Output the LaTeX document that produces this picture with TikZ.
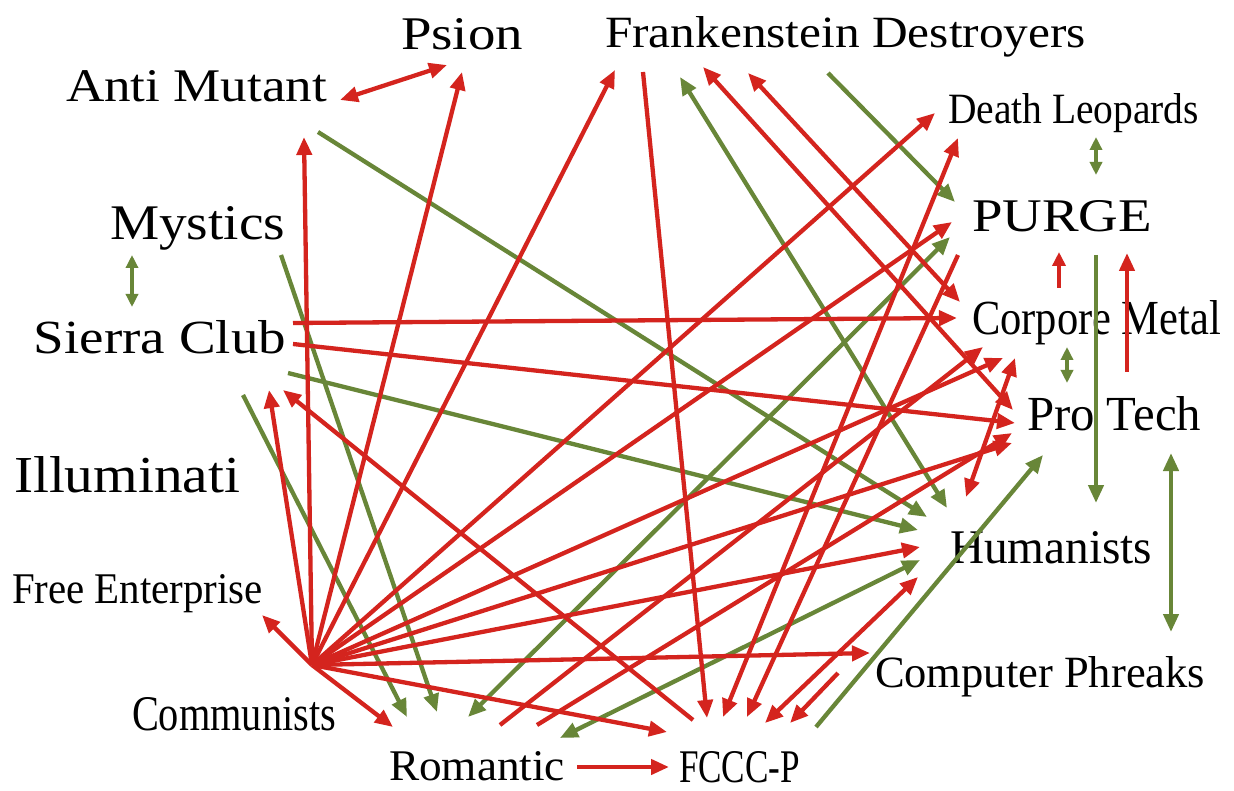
\documentclass[tikz,border=0pt]{standalone}
\usepackage{fontspec}
\setmainfont{Liberation Serif}
\usepackage{graphicx}
\usetikzlibrary{arrows.meta}
\definecolor{cred}{RGB}{212,36,30}
\definecolor{cgreen}{RGB}{104,134,56}
\begin{document}
\begin{tikzpicture}[x=1pt,y=-1pt,
  lbl/.style={anchor=base west,inner sep=0pt,outer sep=0pt},
  rline/.style={draw=cred,line width=4.3pt,-{Triangle[length=18pt,width=15pt]}},
  rdbl/.style={draw=cred,line width=4.3pt,{Triangle[length=18pt,width=15pt]}-{Triangle[length=18pt,width=15pt]}},
  gline/.style={draw=cgreen,line width=4.3pt,-{Triangle[length=18pt,width=15pt]}},
  gdbl/.style={draw=cgreen,line width=4.3pt,{Triangle[length=18pt,width=15pt]}-{Triangle[length=18pt,width=15pt]}},
  gsmall/.style={draw=cgreen,line width=4.3pt,{Triangle[length=13pt,width=12pt]}-{Triangle[length=13pt,width=12pt]}},
  rshort/.style={draw=cred,line width=4.3pt,-{Triangle[length=14pt,width=13pt]}}
]
\fill[white] (0,0) rectangle (1234,791);
\useasboundingbox (0,0) rectangle (1234,791);

% labels
\node[lbl] (psion) at (401,50)  {\resizebox{122pt}{31pt}{Psion}};
\node[lbl] (fd)    at (605,48)  {\resizebox{481pt}{31pt}{Frankenstein Destroyers}};
\node[lbl] (am)    at (66,102)  {\resizebox{261pt}{31pt}{Anti Mutant}};
\node[lbl] (dl)    at (948,124) {\resizebox{251pt}{30pt}{Death Leopards}};
\node[lbl] (mys)   at (110,240) {\resizebox{175pt}{33pt}{Mystics}};
\node[lbl] (purge) at (972,232) {\resizebox{180pt}{31pt}{PURGE}};
\node[lbl] (sc)    at (34,354)  {\resizebox{252pt}{33pt}{Sierra Club}};
\node[lbl] (cm)    at (972,335) {\resizebox{249pt}{34pt}{Corpore Metal}};
\node[lbl] (pt)    at (1027,430){\resizebox{174pt}{34pt}{Pro Tech}};
\node[lbl] (ill)   at (14,492)  {\resizebox{226pt}{36pt}{Illuminati}};
\node[lbl] (hum)   at (950,563) {\resizebox{202pt}{32pt}{Humanists}};
\node[lbl] (fe)    at (12,603)  {\resizebox{251pt}{29pt}{Free Enterprise}};
\node[lbl] (cp)    at (875,687) {\resizebox{330pt}{31pt}{Computer Phreaks}};
\node[lbl] (com)   at (132,730) {\resizebox{204pt}{33pt}{Communists}};
\node[lbl] (rom)   at (389,780) {\resizebox{176pt}{29pt}{Romantic}};
\node[lbl] (fccc)  at (679,782) {\resizebox{121pt}{31pt}{FCCC-P}};

% connector end points
\coordinate (hub) at (312,665);
\coordinate (fe-a) at (262,615);
\coordinate (am-a) at (304,137);
\coordinate (sc-a1) at (269,390);
\coordinate (sc-a2) at (283,390);
\coordinate (psion-a) at (462,72);
\coordinate (fd-a1) at (615,70);
\coordinate (dl-a1) at (935,113);
\coordinate (purge-a1) at (952,222);
\coordinate (cm-a1) at (1003,358);
\coordinate (pt-a1) at (1012,443);
\coordinate (hum-a1) at (920,547);
\coordinate (cp-a) at (870,653);
\coordinate (fccc-a1) at (667,732);
\coordinate (rom-a1) at (393,727);
\coordinate (fccc-s1) at (693,720);
\coordinate (fd-s1) at (643,72);
\coordinate (fccc-a2) at (707,718);
\coordinate (purge-s1) at (958,255);
\coordinate (fccc-a3) at (747,717);
\coordinate (cp-s) at (838,673);
\coordinate (fccc-a4) at (790,723);
\coordinate (rom-s1) at (577,767);
\coordinate (fccc-a5) at (669,767);
\coordinate (rom-s2) at (500,725);
\coordinate (cm-a2) at (983,347);
\coordinate (rom-s3) at (537,725);
\coordinate (pt-a2) at (1012,433);
\coordinate (sc-s1) at (293,323);
\coordinate (cm-a3) at (957,318);
\coordinate (sc-s2) at (293,344);
\coordinate (pt-a3) at (1015,423);
\coordinate (cm-s1) at (1059,288);
\coordinate (purge-a2) at (1059,252);
\coordinate (pt-s1) at (1127,372);
\coordinate (purge-a3) at (1127,253);
\coordinate (am-b) at (340,100);
\coordinate (psion-b) at (447,65);
\coordinate (fd-b1) at (703,67);
\coordinate (pt-b1) at (1013,410);
\coordinate (fd-b2) at (748,73);
\coordinate (cm-b1) at (960,302);
\coordinate (dl-b1) at (958,138);
\coordinate (fccc-b1) at (723,717);
\coordinate (fccc-b2) at (765,723);
\coordinate (hum-b1) at (918,577);
\coordinate (hum-b2) at (966,497);
\coordinate (cm-b2) at (1015,358);
\coordinate (mys-s) at (281,255);
\coordinate (rom-a2) at (437,712);
\coordinate (ill-s) at (243,395);
\coordinate (rom-a3) at (407,717);
\coordinate (am-s) at (318,132);
\coordinate (hum-a2) at (927,517);
\coordinate (sc-s3) at (288,373);
\coordinate (hum-a3) at (918,530);
\coordinate (fd-s2) at (828,73);
\coordinate (purge-a4) at (955,202);
\coordinate (purge-s2) at (1096,255);
\coordinate (hum-a4) at (1096,503);
\coordinate (fccc-s2) at (816,727);
\coordinate (pt-a4) at (1043,455);
\coordinate (rom-b1) at (468,717);
\coordinate (purge-b1) at (950,237);
\coordinate (rom-b2) at (560,738);
\coordinate (hum-b3) at (920,560);
\coordinate (fd-b3) at (680,77);
\coordinate (hum-b4) at (947,508);
\coordinate (mys-b) at (132,255);
\coordinate (sc-b) at (132,307);
\coordinate (dl-b2) at (1096,137);
\coordinate (purge-b2) at (1096,175);
\coordinate (cm-b3) at (1067,347);
\coordinate (pt-b2) at (1067,383);
\coordinate (pt-b3) at (1171,453);
\coordinate (cp-b) at (1171,632);

% green connectors
\draw[gline] (mys-s) -- (rom-a2);
\draw[gline] (ill-s) -- (rom-a3);
\draw[gline] (am-s) -- (hum-a2);
\draw[gline] (sc-s3) -- (hum-a3);
\draw[gline] (fd-s2) -- (purge-a4);
\draw[gline] (purge-s2) -- (hum-a4);
\draw[gline] (fccc-s2) -- (pt-a4);
\draw[gdbl] (rom-b1) -- (purge-b1);
\draw[gdbl] (rom-b2) -- (hum-b3);
\draw[gdbl] (fd-b3) -- (hum-b4);
\draw[gsmall] (mys-b) -- (sc-b);
\draw[gsmall] (dl-b2) -- (purge-b2);
\draw[gsmall] (cm-b3) -- (pt-b2);
\draw[gdbl] (pt-b3) -- (cp-b);

% red connectors from Communists
\draw[rline] (hub) -- (fe-a);
\draw[rline] (hub) -- (am-a);
\draw[rline] (hub) -- (sc-a1);
\draw[rline] (hub) -- (psion-a);
\draw[rline] (hub) -- (fd-a1);
\draw[rline] (hub) -- (dl-a1);
\draw[rline] (hub) -- (purge-a1);
\draw[rline] (hub) -- (cm-a1);
\draw[rline] (hub) -- (pt-a1);
\draw[rline] (hub) -- (hum-a1);
\draw[rline] (hub) -- (cp-a);
\draw[rline] (hub) -- (fccc-a1);
\draw[rline] (hub) -- (rom-a1);

% other red connectors
\draw[rline] (fccc-s1) -- (sc-a2);
\draw[rline] (fd-s1) -- (fccc-a2);
\draw[rline] (purge-s1) -- (fccc-a3);
\draw[rline] (cp-s) -- (fccc-a4);
\draw[rline] (rom-s1) -- (fccc-a5);
\draw[rline] (rom-s2) -- (cm-a2);
\draw[rline] (rom-s3) -- (pt-a2);
\draw[rline] (sc-s1) -- (cm-a3);
\draw[rline] (sc-s2) -- (pt-a3);
\draw[rshort] (cm-s1) -- (purge-a2);
\draw[rline] (pt-s1) -- (purge-a3);
\draw[rdbl] (am-b) -- (psion-b);
\draw[rdbl] (fd-b1) -- (pt-b1);
\draw[rdbl] (fd-b2) -- (cm-b1);
\draw[rdbl] (dl-b1) -- (fccc-b1);
\draw[rdbl] (fccc-b2) -- (hum-b1);
\draw[rdbl] (hum-b2) -- (cm-b2);
\end{tikzpicture}
\end{document}
